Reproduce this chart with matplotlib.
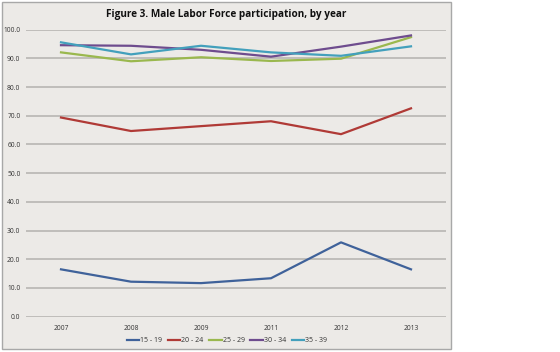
import matplotlib
matplotlib.use("Agg")
import matplotlib.pyplot as plt
from matplotlib.patches import Rectangle
import numpy as np

years = ["2007", "2008", "2009", "2011", "2012", "2013"]
age_groups = ["15 - 19", "20 - 24", "25 - 29", "30 - 34", "35 - 39"]

age_15_19 = [16.5, 12.2, 11.7, 13.4, 25.9, 16.5]
age_20_24 = [69.4, 64.7, 66.4, 68.1, 63.6, 72.6]
age_25_29 = [92.1, 89.0, 90.4, 89.1, 89.9, 97.4]
age_30_34 = [94.6, 94.4, 93.0, 90.6, 94.1, 98.0]
age_35_39 = [95.6, 91.4, 94.4, 92.1, 90.9, 94.2]

series = [age_15_19, age_20_24, age_25_29, age_30_34, age_35_39]
colors = ["#3F629A", "#B03A36", "#9AB84E", "#6E4C8E", "#43A0BC"]

plt.rcParams["font.family"] = ["Open Sans", "DejaVu Sans"]

fig = plt.figure(figsize=(5.6, 3.52), dpi=100)
fig.patch.set_facecolor("white")

# chart area box (Excel style)
fig.patches.append(Rectangle((1.5 / 560, 3.0 / 352), 449.5 / 560, 347.5 / 352,
                             transform=fig.transFigure, facecolor="#ECEAE7",
                             edgecolor="#A8A8A8", linewidth=1.0, zorder=-10))

ax = fig.add_axes([26 / 560, 1 - 316.7 / 352, 420 / 560, 287 / 352])
ax.set_facecolor("none")

x = np.arange(len(years))
for vals, label, color in zip(series, age_groups, colors):
    ax.plot(x, vals, "-", color=color, linewidth=1.6, label=label, zorder=3)

ax.set_xlim(-0.5, len(years) - 0.5)
ax.set_ylim(0, 100)
ax.set_yticks(np.arange(0, 101, 10))
ax.set_yticklabels(["%.1f" % v for v in np.arange(0, 101, 10)])
ax.set_xticks(x)
ax.set_xticklabels(years)
ax.tick_params(axis="both", length=0, labelsize=4.8, colors="#333333")
ax.tick_params(axis="y", pad=4)
ax.tick_params(axis="x", pad=6)
ax.grid(axis="y", color="#B3B1AE", linewidth=1.1)
ax.set_axisbelow(True)
for s in ax.spines.values():
    s.set_visible(False)

fig.text(226 / 560, 1 - 14 / 352, "Figure 3. Male Labor Force participation, by year",
         ha="center", va="center", fontsize=7.2, fontweight="bold", color="#111111")

leg = fig.legend(loc="center", bbox_to_anchor=(227 / 560, 1 - 341 / 352), ncol=5,
                 frameon=False, fontsize=5, handlelength=1.8, handletextpad=0.15,
                 columnspacing=0.8)
for t in leg.get_texts():
    t.set_color("#333333")

fig.savefig("out.png", dpi=100, facecolor=fig.get_facecolor())
